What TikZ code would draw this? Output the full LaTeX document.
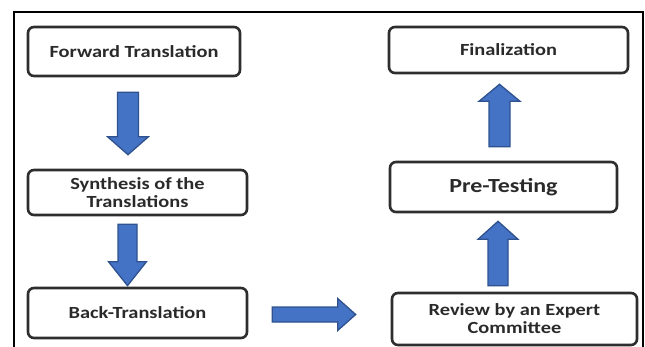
\documentclass[tikz,border=0pt]{standalone}
\usepackage{fontspec}
\setmainfont[FakeStretch=1.2]{Carlito}
\usetikzlibrary{calc}
\definecolor{boxline}{HTML}{2E2E2E}
\definecolor{txt}{HTML}{2A2A2A}
\definecolor{arrfill}{HTML}{4472C4}
\definecolor{arrline}{HTML}{2F528F}
\tikzset{
  stagebox/.style={draw=boxline, line width=2.6pt, rounded corners=6pt, fill=white,
    inner sep=0pt, align=center, text=txt, font=\bfseries\fontsize{17}{18}\selectfont},
  arrowstyle/.style={fill=arrfill, draw=arrline, line width=1.3pt, line join=miter},
  frameline/.style={draw=black, line width=1.6pt}
}
\newcommand\fatarrow[5]{%
  \draw[arrowstyle]
    ($(#1)!#3!90:(#2)$) --
    ($(#2)!#5!(#1)!#3!90:(#2)$) --
    ($(#2)!#5!(#1)!#4!90:(#2)$) --
    (#2) --
    ($(#2)!#5!(#1)!#4!-90:(#2)$) --
    ($(#2)!#5!(#1)!#3!-90:(#2)$) --
    ($(#1)!#3!-90:(#2)$) -- cycle;}
\begin{document}
\begin{tikzpicture}[x=1pt,y=-1pt]
\useasboundingbox (0,0) rectangle (645,347);
\fill[white] (0,0) rectangle (645,347);
\draw[frameline] (14,347) -- (14,12) -- (643,12) -- (643,347);

\node[stagebox, minimum width=212pt, minimum height=49pt] (fwd) at (134,51.5) {Forward Translation};
\node[stagebox, minimum width=219pt, minimum height=45pt] (syn) at (137.5,192.5) {Synthesis of the\\Translations};
\node[stagebox, minimum width=219pt, minimum height=50pt] (back) at (137.5,313) {Back-Translation};
\node[stagebox, minimum width=245pt, minimum height=52pt] (rev) at (514.5,319) {Review by an Expert\\Committee};
\node[stagebox, minimum width=227pt, minimum height=50pt, font=\bfseries\fontsize{20}{22}\selectfont] (pre) at (503.5,187) {Pre-Testing};
\node[stagebox, minimum width=239pt, minimum height=46pt] (fin) at (508.5,50) {Finalization};

\coordinate (a1s) at ($(fwd.south)+(-6,15)$);
\coordinate (a1t) at ($(syn.north)+(-9.5,-14)$);
\coordinate (a2s) at ($(syn.south)+(-10,8)$);
\coordinate (a2t) at ($(back.north)+(-10,-1)$);
\coordinate (a3s) at ($(back.east)+(24,1.5)$);
\coordinate (a3t) at ($(rev.west)+(-35,-4.5)$);
\coordinate (a4s) at ($(rev.north)+(-16.5,-6)$);
\coordinate (a4t) at ($(pre.south)+(-5.5,8)$);
\coordinate (a5s) at ($(pre.north)+(-4,-14)$);
\coordinate (a5t) at ($(fin.south)+(-9,10)$);

\fatarrow{a1s}{a1t}{10.5pt}{20.5pt}{18pt}
\fatarrow{a2s}{a2t}{9.5pt}{19pt}{24pt}
\fatarrow{a3s}{a3t}{7.5pt}{16pt}{18pt}
\fatarrow{a4s}{a4t}{10pt}{20pt}{18pt}
\fatarrow{a5s}{a5t}{10.5pt}{20.5pt}{17pt}
\end{tikzpicture}
\end{document}
